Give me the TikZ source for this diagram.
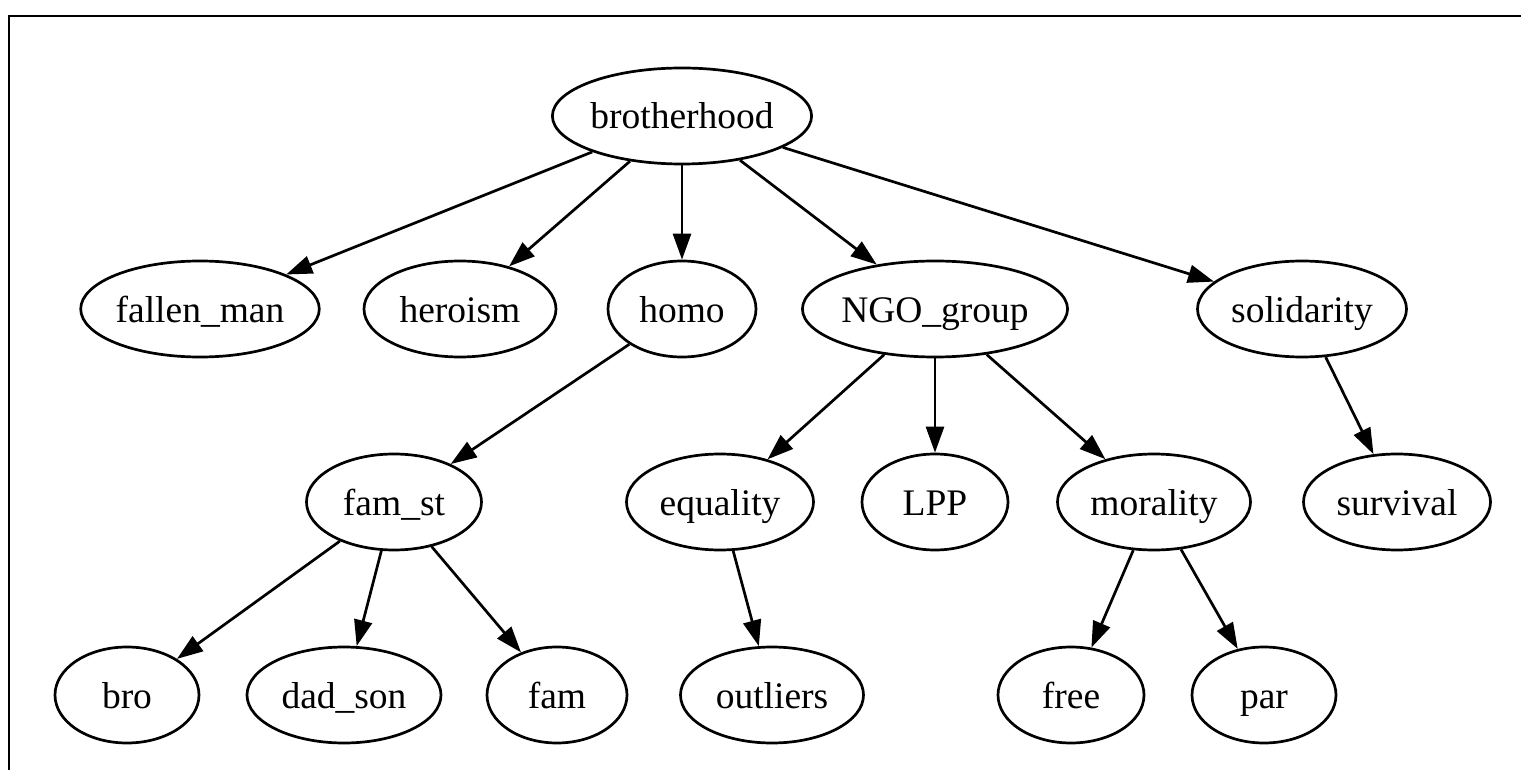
\documentclass[tikz,border=0pt]{standalone}
\usepackage{fontspec}
\setmainfont{Liberation Serif}
\usetikzlibrary{arrows.meta,shapes.geometric}
\begin{document}
\begin{tikzpicture}[x=0.5pt,y=-0.5pt,
  nd/.style={draw,ellipse,line width=1.35pt,inner sep=0pt,minimum height=48pt,
    text height=13pt,text depth=0pt,
    font=\fontsize{18.75}{22}\selectfont},
  edge/.style={line width=1.35pt,-{Triangle[length=13pt,width=9pt]}},
  frame/.style={line width=1.4pt}]
\useasboundingbox (0,0) rectangle (1521,770);
\draw[frame] (1521,16) -- (9,16) -- (9,770);
% rank 1
\node[nd,minimum width=125.5pt] (brotherhood) at (682,116) {brotherhood};
% rank 2
\node[nd,minimum width=117.5pt] (fallen_man) at (200,309) {fallen\_man};
\node[nd,minimum width=96pt] (heroism) at (460,309) {heroism};
\node[nd,minimum width=74pt] (homo) at (682,309) {homo};
\node[nd,minimum width=126.5pt] (NGO_group) at (935,309) {NGO\_group};
\node[nd,minimum width=104.5pt] (solidarity) at (1302,309) {solidarity};
% rank 3
\node[nd,minimum width=87.5pt] (fam_st) at (394,502) {fam\_st};
\node[nd,minimum width=93.5pt] (equality) at (720,502) {equality};
\node[nd,minimum width=73pt] (LPP) at (935,502) {LPP};
\node[nd,minimum width=96.5pt] (morality) at (1154,502) {morality};
\node[nd,minimum width=93.5pt] (survival) at (1397,502) {survival};
% rank 4
\node[nd,minimum width=72pt] (bro) at (127,695) {bro};
\node[nd,minimum width=97pt] (dad_son) at (344,695) {dad\_son};
\node[nd,minimum width=70pt] (fam) at (557,695) {fam};
\node[nd,minimum width=91.5pt] (outliers) at (772,695) {outliers};
\node[nd,minimum width=73pt] (free) at (1071,695) {free};
\node[nd,minimum width=72pt] (par) at (1264,695) {par};
% edges
\draw[edge] (brotherhood) -- (fallen_man);
\draw[edge] (brotherhood) -- (heroism);
\draw[edge] (brotherhood) -- (homo);
\draw[edge] (brotherhood) -- (NGO_group);
\draw[edge] (brotherhood) -- (solidarity);
\draw[edge] (homo) -- (fam_st);
\draw[edge] (NGO_group) -- (equality);
\draw[edge] (NGO_group) -- (LPP);
\draw[edge] (NGO_group) -- (morality);
\draw[edge] (solidarity) -- (survival);
\draw[edge] (fam_st) -- (bro);
\draw[edge] (fam_st) -- (dad_son);
\draw[edge] (fam_st) -- (fam);
\draw[edge] (equality) -- (outliers);
\draw[edge] (morality) -- (free);
\draw[edge] (morality) -- (par);
\end{tikzpicture}
\end{document}
